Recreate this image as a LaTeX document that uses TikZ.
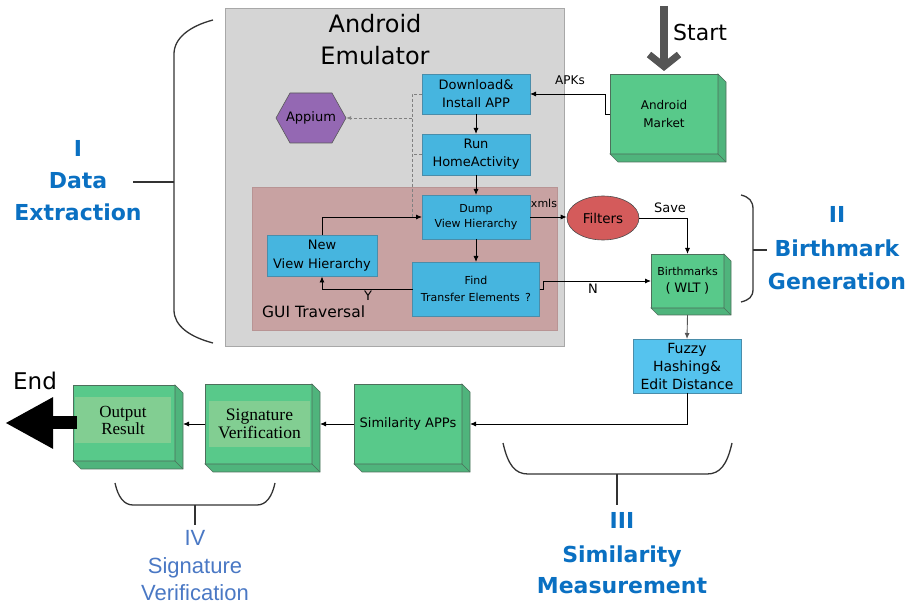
\documentclass[tikz,border=0pt]{standalone}
\usepackage{fontspec}
\setmainfont{DejaVu Sans}
\newfontfamily\serifff{Liberation Serif}
\newfontfamily\arialff{Liberation Sans}
\usetikzlibrary{arrows.meta,shapes.geometric,calc}
\definecolor{emufill}{HTML}{D5D5D5}
\definecolor{emuline}{HTML}{A8A8A8}
\definecolor{guifill}{HTML}{C8A2A2}
\definecolor{guiline}{HTML}{B89494}
\definecolor{bluefill}{HTML}{46B5DF}
\definecolor{blueline}{HTML}{4A8DAA}
\definecolor{lightblue}{HTML}{55C3EE}
\definecolor{greenfill}{HTML}{58C98A}
\definecolor{greenside}{HTML}{4FB47C}
\definecolor{greenline}{HTML}{4D6F5B}
\definecolor{greeninner}{HTML}{82CE92}
\definecolor{purplefill}{HTML}{9468B3}
\definecolor{redfill}{HTML}{D45B5B}
\definecolor{hdrblue}{HTML}{0A70C2}
\definecolor{ivblue}{HTML}{4A78C4}
\definecolor{bracec}{HTML}{333333}
\definecolor{startgray}{HTML}{555555}
\newcommand\extrude[2][8]{%
  \filldraw[fill=greenside,draw=greenline,line width=0.6pt]
    (#2.north east) -- ++(#1,#1) -- ($(#2.south east)+(#1,#1)$)
    -- ($(#2.south west)+(#1,#1)$) -- (#2.south west) -- (#2.south east) -- cycle;
  \draw[greenline,line width=0.6pt] (#2.south east) -- ++(#1,#1);}
\begin{document}
\begin{tikzpicture}[x=1pt,y=-1pt,
  bluebox/.style={draw=blueline,fill=bluefill,line width=0.6pt,inner sep=0pt,outer sep=0pt,align=center,text=black},
  greenbox/.style={draw=greenline,fill=greenfill,line width=0.6pt,inner sep=0pt,outer sep=0pt,align=center},
  innerbox/.style={fill=greeninner,inner sep=0pt,align=center},
  arr/.style={draw=black,line width=0.9pt,-{Latex[length=6pt,width=5pt]}},
  dashline/.style={draw=gray,line width=0.8pt,dashed,dash pattern=on 3pt off 2pt},
  brace/.style={draw=bracec,line width=1.3pt},
  hdr/.style={text=hdrblue,font=\fontsize{22}{26}\selectfont\bfseries,anchor=base},
  ivt/.style={text=ivblue,font=\arialff\fontsize{22}{26}\selectfont,anchor=base},
  lbl/.style={inner sep=0pt,anchor=base}]
\useasboundingbox (0,0) rectangle (911,609);
% containers
\filldraw[fill=emufill,draw=emuline,line width=1pt] (225,9) rectangle (564,347);
\filldraw[fill=guifill,draw=guiline,line width=0.8pt] (252,187) rectangle (557,330);
\node[lbl,font=\fontsize{24}{28}\selectfont] (emu1) at (375,33) {Android};
\node[lbl,font=\fontsize{24}{28}\selectfont] (emu2) at (375,65) {Emulator};
\node[lbl,anchor=base west,font=\fontsize{15.5}{18}\selectfont] (guit) at (262,318) {GUI Traversal};
% blue boxes
\node[bluebox,minimum width=108,minimum height=40,font=\fontsize{13}{18}\selectfont] (dl) at (476,94) {Download\&\\Install APP};
\node[bluebox,minimum width=108,minimum height=41,font=\fontsize{13}{18}\selectfont] (run) at (476,154.5) {Run\\HomeActivity};
\node[bluebox,minimum width=108,minimum height=44,font=\fontsize{11}{15}\selectfont] (dump) at (476,217) {Dump\\View Hierarchy};
\node[bluebox,minimum width=127,minimum height=54,font=\fontsize{11}{17}\selectfont] (find) at (476,289) {Find\\Transfer Elements \,?};
\node[bluebox,minimum width=110,minimum height=41,font=\fontsize{13}{19}\selectfont] (nvh) at (322,256) {New\\View Hierarchy};
\node[bluebox,fill=lightblue,minimum width=108,minimum height=54,font=\fontsize{14}{18}\selectfont] (fuzzy) at (687,366) {Fuzzy\\Hashing\&\\Edit Distance};
% appium hexagon
\filldraw[fill=purplefill,draw=gray!70!black,line width=0.6pt]
  (276,118) -- (290,93) -- (332,93) -- (346,118) -- (332,143) -- (290,143) -- cycle;
\node[inner sep=0pt,minimum width=70,minimum height=50,font=\fontsize{13}{16}\selectfont] (appium) at (311,118) {Appium};
% filters
\node[ellipse,draw=gray!60!black,fill=redfill,line width=0.6pt,minimum width=72,minimum height=44,inner sep=0pt,font=\fontsize{13.5}{16}\selectfont] (filt) at (603,218) {Filters};
% green 3D boxes
\node[greenbox,minimum width=108,minimum height=80,font=\fontsize{12}{18}\selectfont] (market) at (664,114) {Android\\Market};
\extrude{market}
\node[greenbox,minimum width=73,minimum height=54] (bm) at (687.5,281) {\fontsize{11}{13}\selectfont Birthmarks\\[5pt]\fontsize{13}{15}\selectfont(\;WLT\;)};
\extrude[7]{bm}
\node[greenbox,minimum width=108,minimum height=80,font=\fontsize{13}{16}\selectfont] (sim) at (408,424) {Similarity APPs};
\extrude{sim}
\node[greenbox,minimum width=107,minimum height=80] (sig) at (258.5,424) {};
\extrude{sig}
\node[innerbox,minimum width=101,minimum height=46,font=\serifff\fontsize{17.5}{18}\selectfont] (sigt) at (259.5,424) {Signature\\Verification};
\node[greenbox,minimum width=102,minimum height=76] (out) at (124,423) {};
\extrude{out}
\node[innerbox,minimum width=96,minimum height=46,font=\serifff\fontsize{17}{17}\selectfont] (outt) at (123,420) {Output\\Result};
% dashed links to Appium
\coordinate (bus) at (412,118);
\draw[dashline] (dl.west) -- (dl.west -| bus) -- (dump.west -| bus);
\draw[dashline] (run.west) -- (run.west -| bus);
\draw[dashline,-{Latex[length=5pt,width=4pt,open]}] (bus) -- (appium.east);
% connectors
\draw[arr] (dl) -- (run);
\draw[arr] (run) -- (dump);
\draw[arr] (dump) -- (find);
\draw[arr] (nvh.north) |- (dump.west);
\draw[arr] (find.west) -| (nvh.south);
\node[lbl,font=\fontsize{13}{15}\selectfont] (ylab) at (368,301) {Y};
\draw[arr] (find.east) -- ++(4,0) |- (bm.west);
\node[lbl,font=\fontsize{13}{15}\selectfont] (nlab) at (593,294) {N};
\draw[arr] (dump.east) -- (dump.east -| filt.west);
\node[lbl,font=\fontsize{11}{13}\selectfont] (xlab) at (544,208) {xmls};
\draw[arr] (filt.east) -| (bm.north);
\node[lbl,font=\fontsize{13}{15}\selectfont] (slab) at (670,213) {Save};
\draw[arr,draw=startgray] ($(bm.south)+(0,7)$) -- (fuzzy.north);
\draw[arr] (fuzzy.south) |- ($(sim.east)+(8,0)$);
\draw[arr] (sim.west) -- ($(sig.east)+(8,0)$);
\draw[arr] (sig.west) -- ($(sig.west -| out.east)+(8,0)$);
\draw[arr] (market.west) -- ++(-5,0) |- (dl.east);
\node[lbl,font=\fontsize{12}{14}\selectfont] (apk) at (570,85) {APKs};
% start / end
\coordinate (st) at (664,6);
\draw[line width=8pt,draw=startgray,-{Straight Barb[length=12pt,width=30pt,line width=7pt]}] (st) -- ($(market.north)+(0,-3)$);
\node[lbl,anchor=base west,font=\fontsize{22}{26}\selectfont] (startt) at (673,41) {Start};
\coordinate (endp) at (5,423);
\draw[line width=13pt,-{Triangle[length=48pt,width=48pt]}] ($(out.west)+(4,0)$) -- (endp);
\node[lbl,anchor=base west,font=\fontsize{23}{26}\selectfont] (endt) at (13,390) {End};
% brace I
\draw[brace] (213,20) .. controls (190,26) and (174,38) .. (174,54) -- (174,310) .. controls (174,326) and (190,337) .. (213,343);
\draw[brace] (174,182) -- (133,182);
\node[hdr] (h1a) at (78,157) {I};
\node[hdr] (h1b) at (78,189) {Data};
\node[hdr] (h1c) at (78,221) {Extraction};
% brace II
\draw[brace] (741,195) .. controls (749,197) and (753,201) .. (753,209) -- (753,289) .. controls (753,297) and (749,300) .. (741,302);
\draw[brace] (753,250) -- (767,250);
\node[hdr] (h2a) at (837,223) {II};
\node[hdr] (h2b) at (837,257) {Birthmark};
\node[hdr] (h2c) at (837,290) {Generation};
% brace III
\draw[brace] (503,443) .. controls (508,465) and (515,474) .. (528,474) -- (707,474) .. controls (720,474) and (727,465) .. (732,443);
\draw[brace] (617,474) -- (617,505);
\node[hdr] (h3a) at (622,529) {III};
\node[hdr] (h3b) at (622,562) {Similarity};
\node[hdr] (h3c) at (622,593) {Measurement};
% brace IV
\draw[brace] (115,483) .. controls (118,497) and (124,505) .. (133,505) -- (257,505) .. controls (266,505) and (272,497) .. (275,483);
\draw[brace] (195,505) -- (195,525);
\node[ivt] (h4a) at (195,545) {IV};
\node[ivt] (h4b) at (195,573) {Signature};
\node[ivt] (h4c) at (195,600) {Verification};
\end{tikzpicture}
\end{document}
